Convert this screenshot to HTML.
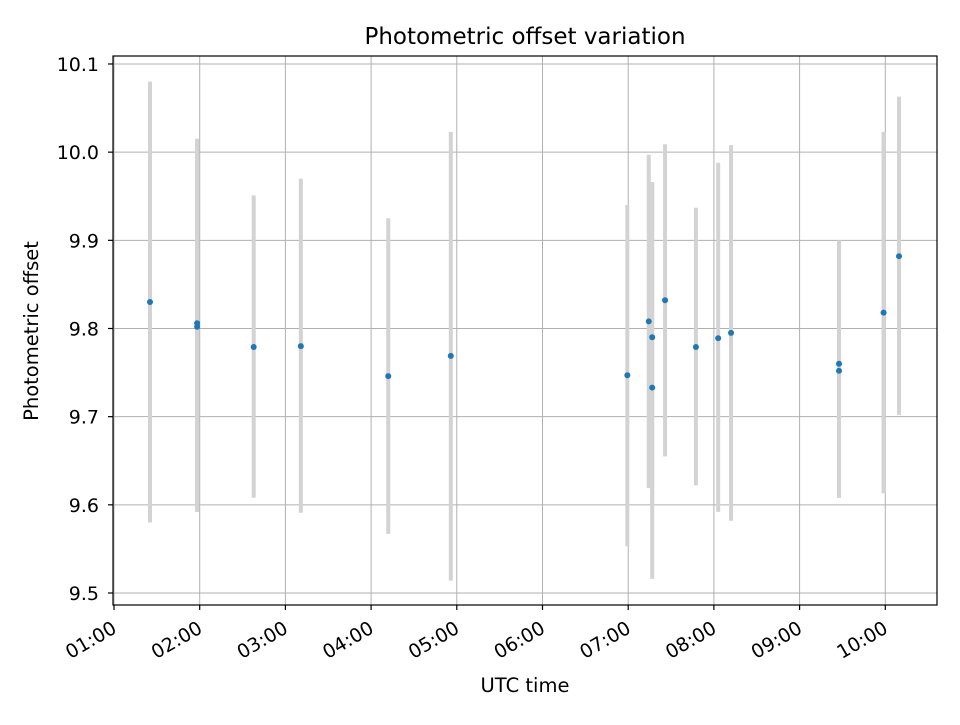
<!DOCTYPE html>
<html><head><meta charset="utf-8"><style>
body{margin:0;background:#fff}
svg text{font-family:"DejaVu Sans","Liberation Sans",sans-serif;fill:#000}
</style></head><body>
<svg id="chart" width="960" height="720" viewBox="0 0 960 720" xmlns="http://www.w3.org/2000/svg">
<rect width="960" height="720" fill="#fff"/>
<g id="grid"></g>
<g id="bars"></g>
<g id="pts"></g>
<rect x="113" y="56" width="824" height="549" fill="none" stroke="#000" stroke-width="1.2"/>
<g id="axes"></g>
<text x="525" y="44" font-size="23" text-anchor="middle">Photometric offset variation</text>
<text x="525" y="692" font-size="19.5" text-anchor="middle">UTC time</text>
<text transform="translate(38,331) rotate(-90)" font-size="19.5" text-anchor="middle">Photometric offset</text>
</svg>
<script>
const times=[1.42,1.97,1.97,2.63,3.18,4.20,4.93,6.99,7.24,7.28,7.28,7.43,7.79,8.05,8.20,9.46,9.46,9.98,10.16];
const values=[9.830,9.802,9.806,9.779,9.780,9.746,9.769,9.747,9.808,9.790,9.733,9.832,9.779,9.789,9.795,9.760,9.752,9.818,9.882];
const lows=[9.580,9.592,9.592,9.608,9.591,9.567,9.514,9.553,9.619,9.600,9.516,9.655,9.622,9.592,9.582,9.608,9.608,9.613,9.702];
const highs=[10.080,10.015,10.015,9.951,9.970,9.925,10.023,9.940,9.997,9.966,9.966,10.009,9.937,9.988,10.008,9.900,9.900,10.023,10.063];
const xTicks=[1,2,3,4,5,6,7,8,9,10];
const xTickLabels=["01:00","02:00","03:00","04:00","05:00","06:00","07:00","08:00","09:00","10:00"];
const yTicks=[9.5,9.6,9.7,9.8,9.9,10.0,10.1];
const yTickLabels=["9.5","9.6","9.7","9.8","9.9","10.0","10.1"];
const NS="http://www.w3.org/2000/svg";
const X=h=>114+(h-1)*85.7;
const Y=v=>593-(v-9.5)*881.7;
function mk(tag,attrs,parent){const e=document.createElementNS(NS,tag);for(const k in attrs)e.setAttribute(k,attrs[k]);parent.appendChild(e);return e;}
const grid=document.getElementById('grid'),axes=document.getElementById('axes'),bars=document.getElementById('bars'),pts=document.getElementById('pts');
xTicks.forEach((t,i)=>{
 const x=X(t);
 const g=mk('line',{x1:x,x2:x,y1:56,y2:605,stroke:'#b0b0b0','stroke-width':1},grid);
 
 const tk=mk('line',{x1:x,x2:x,y1:605,y2:610,stroke:'#000','stroke-width':1.2},axes);
 
 const tx=mk('text',{transform:`translate(${x-3},${620}) rotate(-30)`,dy:'0.72em','font-size':19,'text-anchor':'end'},axes);
 tx.textContent=xTickLabels[i];
 
});
yTicks.forEach((t,i)=>{
 const y=Y(t);
 const g=mk('line',{x1:113,x2:937,y1:y,y2:y,stroke:'#b0b0b0','stroke-width':1},grid);
 
 const tk=mk('line',{x1:108,x2:113,y1:y,y2:y,stroke:'#000','stroke-width':1.2},axes);
 
 const tx=mk('text',{x:99,y:y+7,'font-size':19,'text-anchor':'end'},axes);
 tx.textContent=yTickLabels[i];
 
});
times.forEach((t,i)=>{
 const b=mk('line',{x1:X(t),x2:X(t),y1:Y(highs[i]),y2:Y(lows[i]),stroke:'#d3d3d3','stroke-width':4},bars);
 
});
times.forEach((t,i)=>{
 const c=mk('circle',{cx:X(t),cy:Y(values[i]),r:3,fill:'#1f77b4'},pts);
 
});
</script>
</body></html>
